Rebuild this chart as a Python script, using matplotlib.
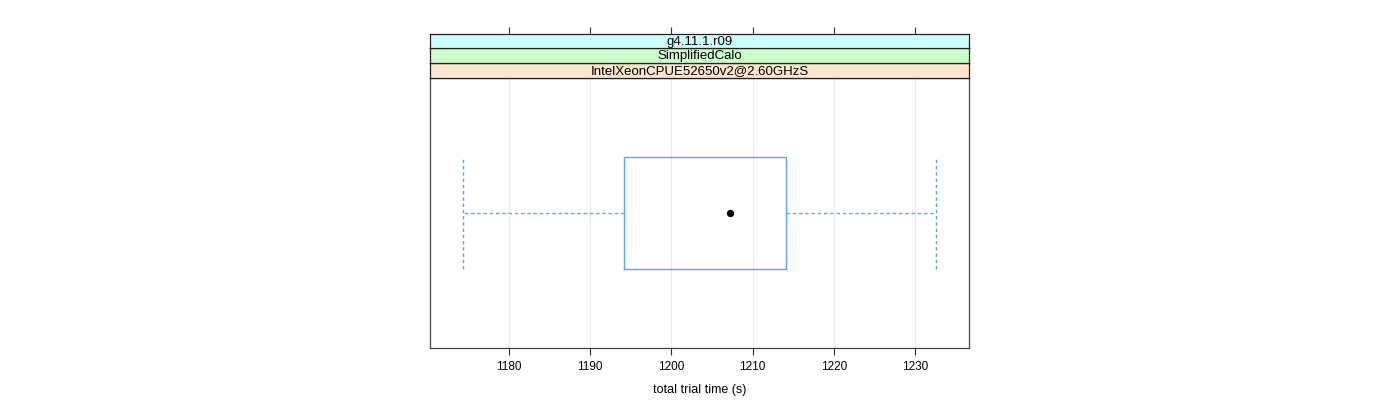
import matplotlib
matplotlib.use("Agg")
import matplotlib.pyplot as plt

# data
strip_labels = ["IntelXeonCPUE52650v2@2.60GHzS", "SimplifiedCalo", "g4.11.1.r09"]
strip_colors = ["#ffe5cc", "#ccffcc", "#ccffff"]
whisker_lo = 1174.33
q1 = 1194.16
median = 1207.22
q3 = 1214.11
whisker_hi = 1232.59
xticks = [1180, 1190, 1200, 1210, 1220, 1230]
xlim = (1170.27, 1236.65)
xlabel = "total trial time (s)"

plt.rcParams['font.family'] = ['Liberation Sans', 'DejaVu Sans']

W, H = 1400, 400
fig = plt.figure(figsize=(14, 4), dpi=100)

def fx(px): return px / W
def fy(py): return 1 - py / H

left, right = 430, 969
ptop, pbot = 78, 348
ax = fig.add_axes([fx(left), fy(pbot), fx(right) - fx(left), fy(ptop) - fy(pbot)])
ax.set_xlim(*xlim)
ax.set_ylim(0.4, 1.6)
for x in xticks:
    ax.axvline(x, color="#ebebeb", lw=0.9, zorder=0)

box_color = "#5aa7f7"
stats = [dict(med=median, q1=q1, q3=q3, whislo=whisker_lo, whishi=whisker_hi, fliers=[])]
ax.bxp(stats, positions=[1], widths=0.5, orientation='horizontal', showfliers=False,
       capwidths=0.5,
       boxprops=dict(color=box_color, lw=1.0),
       whiskerprops=dict(color=box_color, lw=1.0, linestyle=(0, (2.5, 2.0))),
       capprops=dict(color=box_color, lw=1.0, linestyle=(0, (2.5, 2.0))),
       medianprops=dict(lw=0))
ax.plot([median], [1], 'o', color='black', ms=4.2, zorder=5)

ax.set_xticks(xticks)
ax.set_xticklabels([str(x) for x in xticks], fontsize=8.5)
ax.tick_params(axis='x', direction='out', length=5, width=0.8, color='#333333', pad=4)
ax.set_yticks([])
ax.set_xlabel(xlabel, fontsize=9, labelpad=8)
for s in ax.spines.values():
    s.set_color('#444444')
    s.set_linewidth(0.9)

# strips
strip_edges = [(63, 78), (48, 63), (34, 48)]
for i, (lab, col, (t, b)) in enumerate(zip(strip_labels, strip_colors, strip_edges)):
    sa = fig.add_axes([fx(left), fy(b), fx(right) - fx(left), fy(t) - fy(b)])
    sa.set_xlim(*xlim)
    sa.set_ylim(0, 1)
    sa.set_facecolor(col)
    sa.set_yticks([])
    if i == 2:
        sa.set_xticks(xticks)
        sa.xaxis.tick_top()
        sa.set_xticklabels([])
        sa.tick_params(axis='x', direction='out', length=5, width=0.8, color='#333333')
    else:
        sa.set_xticks([])
    for s in sa.spines.values():
        s.set_color('#222222')
        s.set_linewidth(0.9)
    sa.text(0.5, 0.45, lab, transform=sa.transAxes, ha='center', va='center', fontsize=9.5)

fig.savefig("out.png", dpi=100)
